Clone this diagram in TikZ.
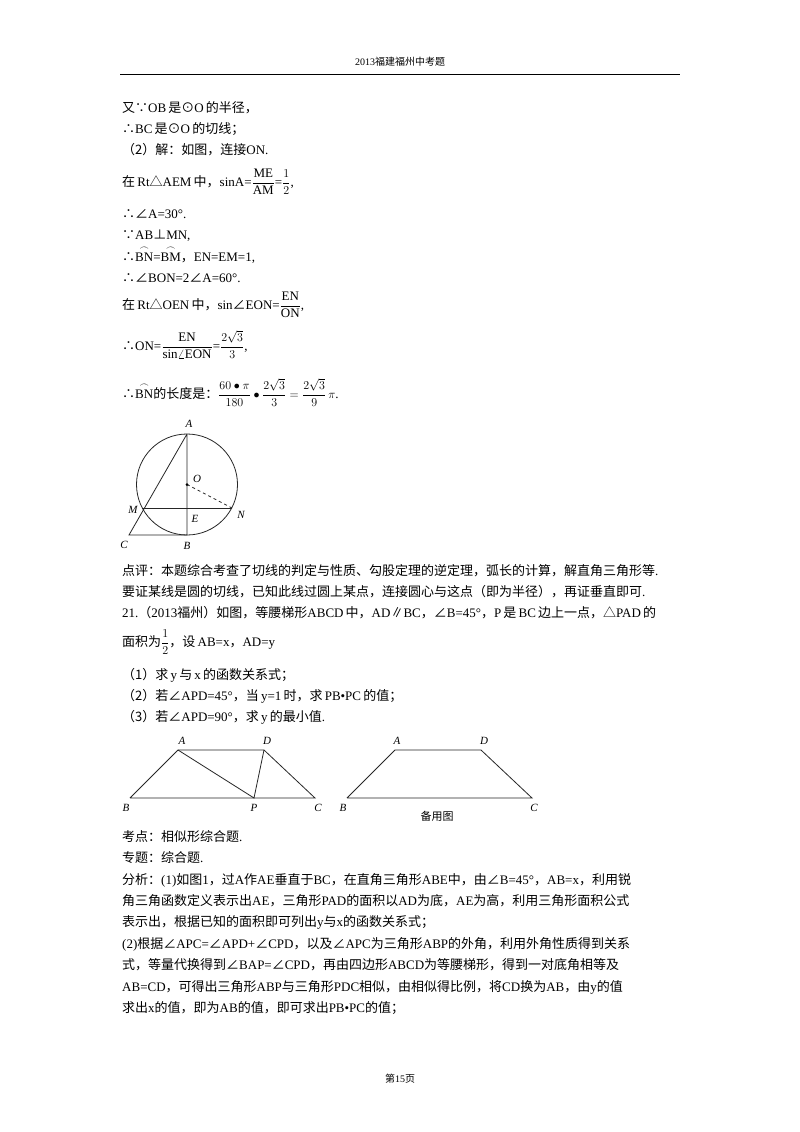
\documentclass[tikz,border=0pt]{standalone}
\usepackage{amsmath}
\usepackage{fontspec}
\setmainfont{Liberation Serif}
\newfontfamily\cjk{Noto Sans CJK SC}
\newcommand\zh[1]{{\cjk #1}}
\begin{document}
\begin{tikzpicture}[x=1pt,y=-1pt,
  txt/.style={anchor=base west,inner sep=0pt,font=\fontsize{13}{15}\selectfont},
  lab/.style={inner sep=0pt,font=\fontsize{11}{13}\selectfont\itshape},
  fig/.style={line width=0.8pt,black!85}]
\useasboundingbox (0,0) rectangle (800,1132);
\fill[white] (0,0) rectangle (800,1132);
\node[anchor=base,inner sep=0pt,font=\fontsize{10}{12}\selectfont] (hd) at (400,66) {2013\zh{福建福州中考题}};
\coordinate (l1) at (120,74); \coordinate (l2) at (680,74);
\draw[line width=0.6pt] (l1) -- (l2);
\node[txt] (t1) at (122,112) {\zh{又∵}OB\,\zh{是⊙}O\,\zh{的半径，}};
\node[txt] (t2) at (122,133) {\zh{∴}BC\,\zh{是⊙}O\,\zh{的切线；}};
\node[txt] (t3) at (122,154) {\zh{（2）解：如图，连接}ON.};
\node[txt] (t4) at (122,186) {\zh{在}\,Rt\zh{△}AEM\,\zh{中，}sinA=$\dfrac{\mathrm{ME}}{\mathrm{AM}}$=$\dfrac{1}{2}$,};
\node[txt] (t5) at (122,218) {\zh{∴∠}A=30°.};
\node[txt] (t6) at (122,239) {\zh{∵}AB\zh{⊥}MN,};
\node[txt] (t7) at (122,261) {\zh{∴}$\overset{\frown}{\mathrm{BN}}$=$\overset{\frown}{\mathrm{BM}}$\zh{，}EN=EM=1,};
\node[txt] (t8) at (122,282) {\zh{∴∠}BON=2\zh{∠}A=60°.};
\node[txt] (t9) at (122,309) {\zh{在}\,Rt\zh{△}OEN\,\zh{中，}sin\zh{∠}EON=$\dfrac{\mathrm{EN}}{\mathrm{ON}}$,};
\node[txt] (t10) at (122,350) {\zh{∴}ON=$\dfrac{\mathrm{EN}}{\mathrm{sin}\angle\mathrm{EON}}$=$\dfrac{2\sqrt{3}}{3}$,};
\node[txt] (t11) at (122,398) {\zh{∴}$\overset{\frown}{\mathrm{BN}}$\zh{的长度是：}$\dfrac{60\bullet\pi}{180}\bullet\dfrac{2\sqrt{3}}{3}=\dfrac{2\sqrt{3}}{9}\,\pi$.};
% circle figure
\coordinate (O) at (187,484.5);
\coordinate (A) at (187,434); \coordinate (B) at (187,535);
\coordinate (M) at (143,508); \coordinate (N) at (232,508);
\coordinate (E) at (187,508); \coordinate (C) at (129,535);
\draw[fig] (O) circle (50.5);
\draw[fig] (A) -- (B) -- (C) -- (A);
\draw[fig] (M) -- (N);
\draw[fig,dashed] (O) -- (N);
\fill (O) circle (1.5);
\node[lab] (LA) at (189,424) {A};
\node[lab] (LO) at (197,479) {O};
\node[lab] (LM) at (133,510) {M};
\node[lab] (LE) at (195,519) {E};
\node[lab] (LN) at (241,515) {N};
\node[lab] (LC) at (124,545) {C};
\node[lab] (LB) at (187,546) {B};
\node[txt] (t12) at (122,575) {\zh{点评：本题综合考查了切线的判定与性质、勾股定理的逆定理，弧长的计算，解直角三角形等}.};
\node[txt] (t13) at (122,596) {\zh{要证某线是圆的切线，已知此线过圆上某点，连接圆心与这点（即为半径），再证垂直即可}.};
\node[txt] (t14) at (122,617) {21.\zh{（}2013\zh{福州）如图，等腰梯形}ABCD\,\zh{中，}AD\zh{∥}BC\zh{，∠}B=45°\zh{，}P\,\zh{是}\,BC\,\zh{边上一点，△}PAD\,\zh{的}};
\node[txt] (t15) at (122,646) {\zh{面积为}$\dfrac{1}{2}$\zh{，设}\,AB=x\zh{，}AD=y};
\node[txt] (t16) at (122,679) {\zh{（1）求}\,y\,\zh{与}\,x\,\zh{的函数关系式；}};
\node[txt] (t17) at (122,700) {\zh{（2）若∠}APD=45°\zh{，当}\,y=1\,\zh{时，求}\,PB•PC\,\zh{的值；}};
\node[txt] (t18) at (122,721) {\zh{（3）若∠}APD=90°\zh{，求}\,y\,\zh{的最小值}.};
% trapezoid 1
\coordinate (a1) at (178,750); \coordinate (d1) at (264,750);
\coordinate (b1) at (130,798); \coordinate (c1) at (315,798); \coordinate (p1) at (254,798);
\draw[fig] (b1) -- (a1) -- (d1) -- (c1) -- (b1);
\draw[fig] (a1) -- (p1) -- (d1);
\node[lab] (La1) at (182,741) {A};
\node[lab] (Ld1) at (267,741) {D};
\node[lab] (Lb1) at (126,808) {B};
\node[lab] (Lp1) at (254,808) {P};
\node[lab] (Lc1) at (318,808) {C};
% trapezoid 2
\coordinate (a2) at (395,750); \coordinate (d2) at (481,750);
\coordinate (b2) at (347,798); \coordinate (c2) at (532,798);
\draw[fig] (b2) -- (a2) -- (d2) -- (c2) -- (b2);
\node[lab] (La2) at (397,741) {A};
\node[lab] (Ld2) at (484,741) {D};
\node[lab] (Lb2) at (343,808) {B};
\node[lab] (Lc2) at (534,808) {C};
\node[inner sep=0pt,font=\fontsize{11}{13}\selectfont\cjk] (by) at (437,816) {备用图};
\node[txt] (t19) at (122,841) {\zh{考点：相似形综合题}.};
\node[txt] (t20) at (122,862) {\zh{专题：综合题}.};
\node[txt] (t21) at (122,884) {\zh{分析：}(1)\zh{如图}1\zh{，过}A\zh{作}AE\zh{垂直于}BC\zh{，在直角三角形}ABE\zh{中，由∠}B=45°\zh{，}AB=x\zh{，利用锐}};
\node[txt] (t22) at (122,905) {\zh{角三角函数定义表示出}AE\zh{，三角形}PAD\zh{的面积以}AD\zh{为底，}AE\zh{为高，利用三角形面积公式}};
\node[txt] (t23) at (122,926) {\zh{表示出，根据已知的面积即可列出}y\zh{与}x\zh{的函数关系式；}};
\node[txt] (t24) at (122,948) {(2)\zh{根据∠}APC=\zh{∠}APD+\zh{∠}CPD\zh{，以及∠}APC\zh{为三角形}ABP\zh{的外角，利用外角性质得到关系}};
\node[txt] (t25) at (122,969) {\zh{式，等量代换得到∠}BAP=\zh{∠}CPD\zh{，再由四边形}ABCD\zh{为等腰梯形，得到一对底角相等及}};
\node[txt] (t26) at (122,991) {AB=CD\zh{，可得出三角形}ABP\zh{与三角形}PDC\zh{相似，由相似得比例，将}CD\zh{换为}AB\zh{，由}y\zh{的值}};
\node[txt] (t27) at (122,1012) {\zh{求出}x\zh{的值，即为}AB\zh{的值，即可求出}PB•PC\zh{的值；}};
\node[anchor=base,inner sep=0pt,font=\fontsize{10}{12}\selectfont] (ft) at (400,1082) {\zh{第}15\zh{页}};
\end{tikzpicture}
\end{document}
